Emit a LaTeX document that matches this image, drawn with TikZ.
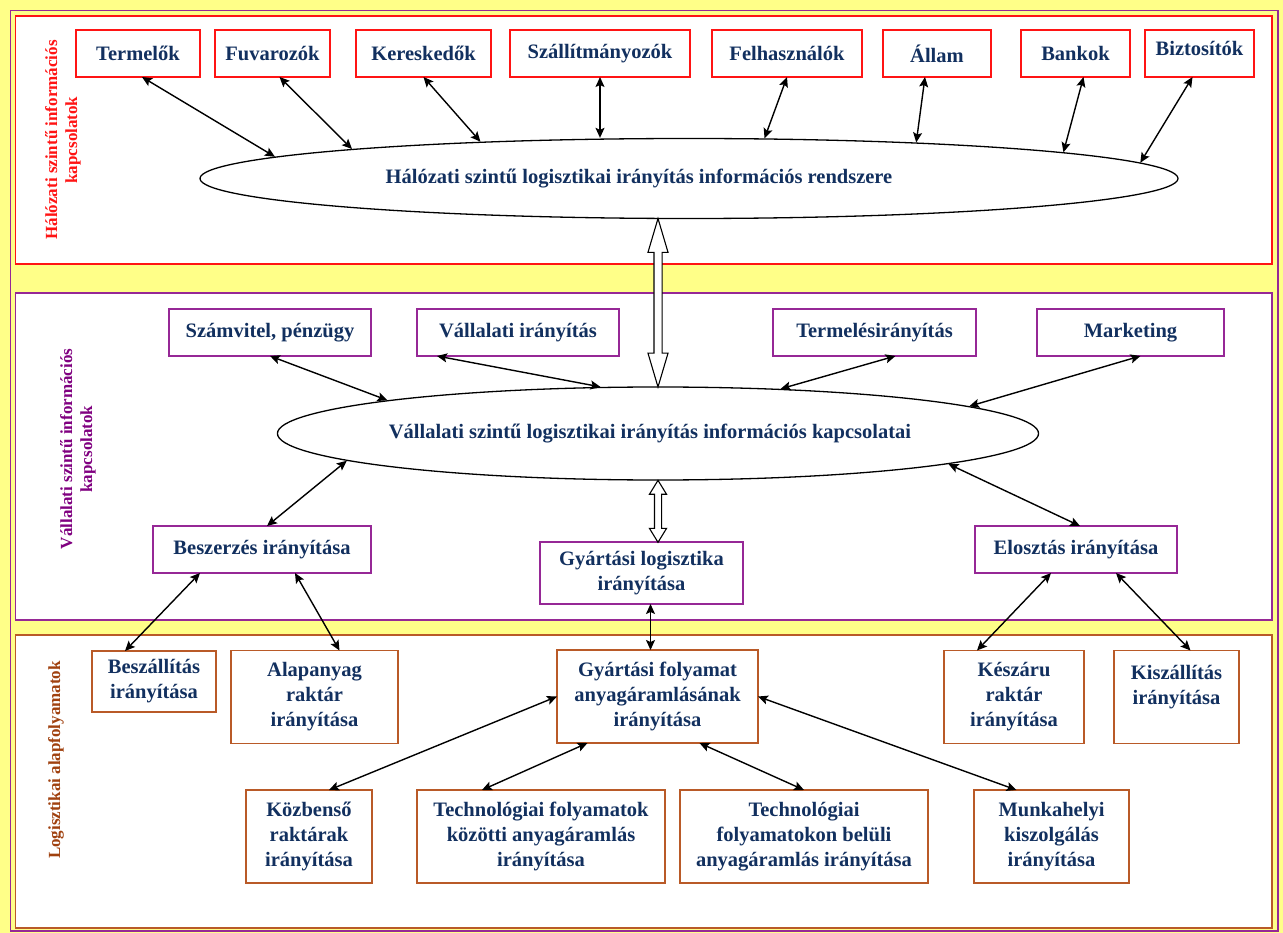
\documentclass[tikz,border=0pt]{standalone}
\usepackage{fontspec}
\setmainfont{Liberation Serif}
\usepackage{tikz}
\usetikzlibrary{shapes, arrows.meta, calc}
\usetikzlibrary{positioning}

\definecolor{hatter}{RGB}{255,255,136}
\definecolor{szoveg}{RGB}{18,48,95}
\definecolor{piros}{RGB}{255,20,20}
\definecolor{lila}{RGB}{150,40,150}
\definecolor{barna}{RGB}{185,90,40}
\definecolor{feliratlila}{RGB}{128,0,128}
\definecolor{feliratbarna}{RGB}{160,65,15}

\tikzset{
    doboz/.style = {
        rectangle,
        fill=white,
        text=szoveg,
        font=\fontsize{20.5}{25}\selectfont\bfseries,
        align=center,
        inner sep=2pt,
        outer sep=0pt,
        line width=1.6pt,
        draw,
    },
    halozat/.style = {
        doboz,
        draw=piros,
        minimum height=47,
    },
    vallalat/.style = {
        doboz,
        draw=lila,
        minimum height=47,
    },
    folyamat/.style = {
        doboz,
        draw=barna,
        minimum height=93,
    },
    rendszer/.style = {
        ellipse,
        draw,
        line width=1.3pt,
        fill=white,
        inner sep=0pt,
        text=szoveg,
        font=\fontsize{20.5}{25}\selectfont\bfseries,
    },
    ures/.style = {
        double arrow,
        draw,
        fill=white,
        line width=1.1pt,
        rotate=90,
        inner sep=3.5pt,
        double arrow head extend=6pt,
    },
    felirat/.style = {
        rotate=90,
        align=center,
        font=\fontsize{17}{20}\selectfont\bfseries,
    },
}
\tikzstyle{arrow} = [line width=1.4pt, {Stealth[length=10pt,width=9pt,inset=2pt]}-{Stealth[length=10pt,width=9pt,inset=2pt]}]

\begin{document}
\begin{tikzpicture}[x=1pt, y=-1pt]
        \useasboundingbox (0,0) rectangle (1283,933);
        \fill[hatter] (0,0) rectangle (1283,933);
        \draw[lila, line width=1.5pt] (10.5,10.5) rectangle (1278,931);
        \draw[piros, line width=1.8pt, fill=white] (15.5,16) rectangle (1272,264);
        \draw[lila, line width=1.8pt, fill=white] (15.5,293) rectangle (1272,620);
        \draw[barna, line width=1.8pt, fill=white] (15.5,635) rectangle (1272,928);

        \node(cimke1) [felirat, text=piros] at (63,140)
        {Hálózati szintű információs\\kapcsolatok};
        \node(cimke2) [felirat, text=feliratlila] at (78,449)
        {Vállalati szintű információs\\kapcsolatok};
        \node(cimke3) [felirat, text=feliratbarna] at (56,760)
        {Logisztikai alapfolyamatok};

        \node(termelok) [halozat, minimum width=124] at (138,53.5)
        {Termelők};
        \node(fuvarozok) [halozat, minimum width=115, right = 15pt of termelok]
        {Fuvarozók};
        \node(kereskedok) [halozat, minimum width=135, right = 26pt of fuvarozok]
        {Kereskedők};
        \node(szallitmanyozok) [halozat, minimum width=180, right = 19pt of kereskedok]
        {Szállítmányozók};
        \node(felhasznalok) [halozat, minimum width=150, right = 22pt of szallitmanyozok]
        {Felhasználók};
        \node(allam) [halozat, minimum width=108, right = 21pt of felhasznalok]
        {Állam};
        \node(bankok) [halozat, minimum width=109, right = 30pt of allam]
        {Bankok};
        \node(biztositok) [halozat, minimum width=109, text depth=11pt, right = 15pt of bankok]
        {Biztosítók};

        \node(halo) [rendszer, minimum width=978, minimum height=80] at (689,178.5)
        {Hálózati szintű logisztikai irányítás információs rendszere\hspace*{100pt}};

        \node(szamvitel) [vallalat, minimum width=202] at (270,332.5)
        {Számvitel, pénzügy};
        \node(iranyitas) [vallalat, minimum width=202, right = 46pt of szamvitel]
        {Vállalati irányítás};
        \node(termeles) [vallalat, minimum width=203, right = 154pt of iranyitas]
        {Termelésirányítás};
        \node(marketing) [vallalat, minimum width=187, right = 61pt of termeles]
        {Marketing};

        \node(vallalati) [rendszer, minimum width=760, minimum height=93] at (658,433.5)
        {Vállalati szintű logisztikai irányítás információs kapcsolatai\hspace*{16pt}};

        \node(beszerzes) [vallalat, minimum width=218] at (262,549.5)
        {Beszerzés irányítása};
        \node(gylog) [vallalat, minimum width=203, minimum height=62] at (641.5,573)
        {Gyártási logisztika\\irányítása};
        \node(elosztas) [vallalat, minimum width=202] at (1076,549.5)
        {Elosztás irányítása};

        \node(beszallitas) [folyamat, minimum width=124, minimum height=61] at (154,681.5)
        {Beszállítás\\irányítása};
        \node(alapanyag) [folyamat, minimum width=167] at (314.5,697)
        {Alapanyag\\raktár\\irányítása};
        \node(gyfoly) [folyamat, minimum width=201] at (657.5,696.5)
        {Gyártási folyamat\\anyagáramlásának\\irányítása};
        \node(keszaru) [folyamat, minimum width=140] at (1014,697)
        {Készáru\\raktár\\irányítása};
        \node(kiszallitas) [folyamat, minimum width=125, right = 30pt of keszaru]
        {Kiszállítás\\irányítása\\\mbox{}};

        \node(kozbenso) [folyamat, minimum width=126] at (309,836.5)
        {Közbenső\\raktárak\\irányítása};
        \node(techkozott) [folyamat, minimum width=248, right = 45pt of kozbenso]
        {Technológiai folyamatok\\közötti anyagáramlás\\irányítása};
        \node(techbelul) [folyamat, minimum width=248, right = 15pt of techkozott]
        {Technológiai\\folyamatokon belüli\\anyagáramlás irányítása};
        \node(munkahelyi) [folyamat, minimum width=155, right = 46pt of techbelul]
        {Munkahelyi\\kiszolgálás\\irányítása};

        \node(kapu1) [ures, minimum height=168.5, double arrow tip angle=33]
        at ($(vallalati.north)!0.5!(vallalati.north |- halo.south)$) {};
        \node(kapu2) [ures, minimum height=62, inner sep=3pt, double arrow head extend=5pt, double arrow tip angle=63]
        at ($(vallalati.south)!0.5!(vallalati.south |- gylog.north)$) {};

        \draw [arrow] ([xshift=4]termelok.south) -- (halo.177.4);
        \draw [arrow] ([xshift=7]fuvarozok.south) -- (halo.175.5);
        \draw [arrow] (kereskedok.south) -- (halo.170.1);
        \draw [arrow] (szallitmanyozok.south) -- (szallitmanyozok.south |- halo.north);
        \draw [arrow] (felhasznalok.south) -- (halo.28.5);
        \draw [arrow] ([xshift=-12]allam.south) -- (halo.9.7);
        \draw [arrow] ([xshift=8]bankok.south) -- (halo.4.1);
        \draw [arrow] ([xshift=-7]biztositok.south) -- (halo.2.6);

        \draw [arrow] (szamvitel.south) -- (vallalati.173.3);
        \draw [arrow] ([xshift=-81]iranyitas.south) -- (vallalati.141.6);
        \draw [arrow] ([xshift=21]termeles.south) -- (vallalati.20.2);
        \draw [arrow] ([xshift=10]marketing.south) -- (vallalati.5.9);
        \draw [arrow] ([xshift=5]beszerzes.north) -- (vallalati.185.9);
        \draw [arrow] ([xshift=4]elosztas.north) -- (vallalati.354.1);

        \draw [arrow] ([xshift=-62]beszerzes.south) -- ([xshift=-29]beszallitas.north);
        \draw [arrow] ([xshift=33]beszerzes.south) -- ([xshift=25]alapanyag.north);
        \draw [arrow] ([xshift=9]gylog.south) -- ([xshift=9]gylog.south |- gyfoly.north);
        \draw [arrow] ([xshift=-25]elosztas.south) -- ([xshift=-37]keszaru.north);
        \draw [arrow] ([xshift=40]elosztas.south) -- ([xshift=14]kiszallitas.north);

        \draw [arrow] (gyfoly.west) -- ([xshift=20]kozbenso.north);
        \draw [arrow] ([xshift=-70]gyfoly.south) -- ([xshift=-59]techkozott.north);
        \draw [arrow] ([xshift=42]gyfoly.south) -- (techbelul.north);
        \draw [arrow] (gyfoly.east) -- ([xshift=-35]munkahelyi.north);

    \end{tikzpicture}
\end{document}
